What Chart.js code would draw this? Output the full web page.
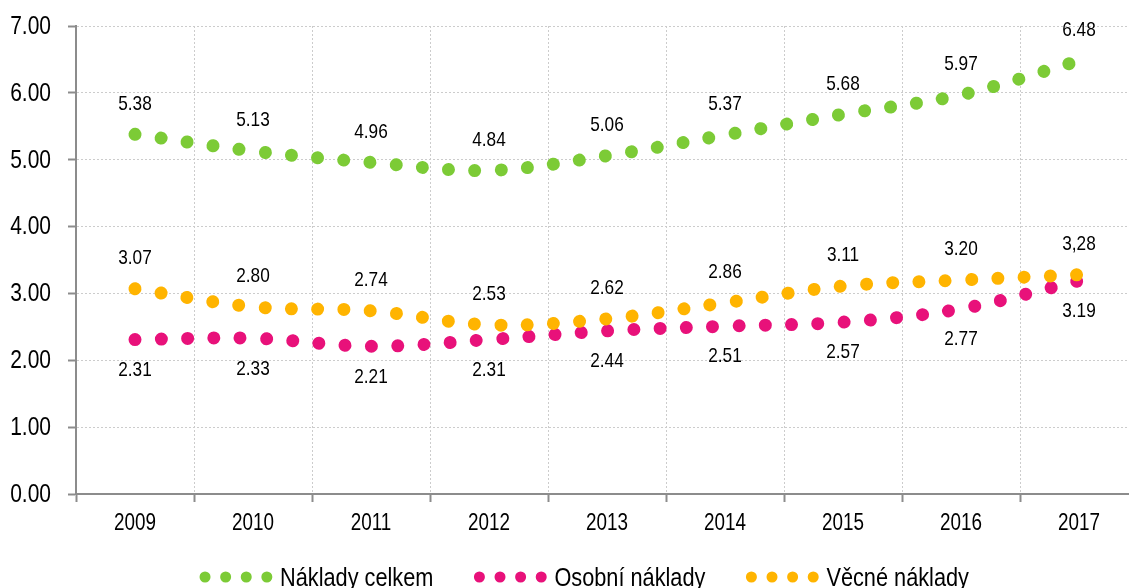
<!DOCTYPE html>
<html>
<head>
<meta charset="utf-8">
<script src="https://cdn.jsdelivr.net/npm/chart.js@4.4.1/dist/chart.umd.min.js"></script>
<style>
  html, body { margin: 0; padding: 0; background: #fff; overflow: hidden; }
  #wrap { width: 1140px; height: 600px; }
</style>
</head>
<body>
<div id="wrap"><canvas id="costChart"></canvas></div>
<script>
// Data
const years = ['2009', '2010', '2011', '2012', '2013', '2014', '2015', '2016', '2017'];
const nakladyCelkem = [5.38, 5.13, 4.96, 4.84, 5.06, 5.37, 5.68, 5.97, 6.48];
const osobniNaklady = [2.31, 2.33, 2.21, 2.31, 2.44, 2.51, 2.57, 2.77, 3.19];
const vecneNaklady = [3.07, 2.80, 2.74, 2.53, 2.62, 2.86, 3.11, 3.20, 3.28];
// the source chart prints the last value with a comma
const vecneLabels = ['3.07', '2.80', '2.74', '2.53', '2.62', '2.86', '3.11', '3.20', '3,28'];

const colors = {
    green: '#7CCB36',
    pink: '#E8117A',
    orange: '#FFB400',
    axis: '#8c8c8c',
    grid: '#cccccc',
    text: '#000000'
};
// no narrow font installed, so Liberation Sans is squeezed to narrow width
const fontFamily = '"Liberation Sans", Arial, sans-serif';
const narrow = 0.82;

const series = [
    { label: 'Náklady celkem', data: nakladyCelkem, color: colors.green, labels: nakladyCelkem.map(v => v.toFixed(2)), above: true, order: 3 },
    { label: 'Osobní náklady', data: osobniNaklady, color: colors.pink, labels: osobniNaklady.map(v => v.toFixed(2)), above: false, order: 2 },
    { label: 'Věcné náklady', data: vecneNaklady, color: colors.orange, labels: vecneLabels, above: true, order: 1 }
];

function narrowText(ctx, text, x, y, align, scaleX) {
    ctx.save();
    ctx.translate(x, y);
    ctx.scale(scaleX || narrow, 1);
    ctx.textAlign = align;
    ctx.fillText(text, 0, 0);
    ctx.restore();
}

// tick labels drawn in narrow text
const narrowTicks = {
    id: 'narrowTicks',
    afterDraw(chart) {
        const ctx = chart.ctx;
        const xs = chart.scales.x, ys = chart.scales.y;
        ctx.save();
        ctx.fillStyle = colors.text;
        ctx.textBaseline = 'middle';
        ctx.font = '23px ' + fontFamily;
        xs.ticks.forEach((t, i) => {
            narrowText(ctx, years[i], xs.getPixelForTick(i), 524, 'center');
        });
        ctx.font = '25px ' + fontFamily;
        ys.ticks.forEach(t => {
            narrowText(ctx, t.value.toFixed(2), 51, ys.getPixelForValue(t.value) + 1, 'right', 0.84);
        });
        ctx.restore();
    }
};

// value labels above / below each yearly point
const valueLabels = {
    id: 'valueLabels',
    afterDatasetsDraw(chart) {
        const ctx = chart.ctx;
        ctx.save();
        ctx.font = '21px ' + fontFamily;
        ctx.fillStyle = colors.text;
        ctx.textBaseline = 'middle';
        series.forEach((s, i) => {
            chart.getDatasetMeta(i).data.forEach((pt, j) => {
                const dy = s.above ? -30.5 : 30.5;
                narrowText(ctx, s.labels[j], pt.x, pt.y + dy, 'center');
            });
        });
        ctx.restore();
    }
};

// legend with dotted line samples, like the original
const dottedLegend = {
    id: 'dottedLegend',
    afterDraw(chart) {
        const ctx = chart.ctx;
        const sampleW = 62, textGap = 13, itemGap = 46, centerX = 587, y = 577;
        ctx.save();
        ctx.font = '26.5px ' + fontFamily;
        const widths = series.map(s => ctx.measureText(s.label).width * narrow);
        let total = 0;
        widths.forEach((w, i) => { total += sampleW + textGap + w + (i < widths.length - 1 ? itemGap : 0); });
        let x = centerX - total / 2;
        series.forEach((s, i) => {
            ctx.strokeStyle = s.color;
            ctx.lineWidth = 11;
            ctx.lineCap = 'round';
            ctx.setLineDash([0.001, 20.6]);
            ctx.beginPath();
            ctx.moveTo(x, y);
            ctx.lineTo(x + sampleW + 1, y);
            ctx.stroke();
            ctx.setLineDash([]);
            ctx.fillStyle = colors.text;
            ctx.textBaseline = 'alphabetic';
            narrowText(ctx, s.label, x + sampleW + textGap, y + 9, 'left');
            x += sampleW + textGap + widths[i] + itemGap;
        });
        ctx.restore();
    }
};

const ctx = document.getElementById('costChart').getContext('2d');
const costChart = new Chart(ctx, {
    type: 'line',
    data: {
        labels: years,
        datasets: series.map(s => ({
            label: s.label,
            data: s.data,
            borderColor: s.color,
            backgroundColor: s.color,
            borderWidth: 13,
            borderCapStyle: 'round',
            borderDash: [0.001, 26.3],
            pointRadius: 0,
            pointHoverRadius: 0,
            tension: 0.35,
            fill: false,
            order: s.order
        }))
    },
    options: {
        responsive: true,
        maintainAspectRatio: false,
        animation: false,
        layout: {
            padding: { top: 26, right: 2, bottom: 0, left: 0 }
        },
        scales: {
            x: {
                type: 'category',
                offset: true,
                grid: {
                    offset: true,
                    color: colors.grid,
                    lineWidth: 1,
                    tickLength: 8,
                    tickColor: colors.axis,
                    tickWidth: 2,
                    tickBorderDash: []
                },
                border: { color: colors.axis, width: 2, dash: [2, 2] },
                ticks: {
                    color: 'rgba(0,0,0,0)',
                    font: { family: fontFamily, size: 10 },
                    maxRotation: 0,
                    autoSkip: false
                },
                afterFit: scale => { scale.height = 106; }
            },
            y: {
                min: 0,
                max: 7,
                grid: {
                    color: colors.grid,
                    lineWidth: 1,
                    tickLength: 8,
                    tickColor: colors.axis,
                    tickWidth: 2,
                    tickBorderDash: []
                },
                border: { color: colors.axis, width: 2, dash: [2, 2] },
                ticks: {
                    stepSize: 1,
                    color: 'rgba(0,0,0,0)',
                    font: { family: fontFamily, size: 10 },
                    callback: v => v.toFixed(2)
                },
                afterFit: scale => { scale.width = 76; }
            }
        },
        plugins: {
            legend: { display: false },
            tooltip: { enabled: false }
        }
    },
    plugins: [valueLabels, narrowTicks, dottedLegend]
});
</script>
</body>
</html>
